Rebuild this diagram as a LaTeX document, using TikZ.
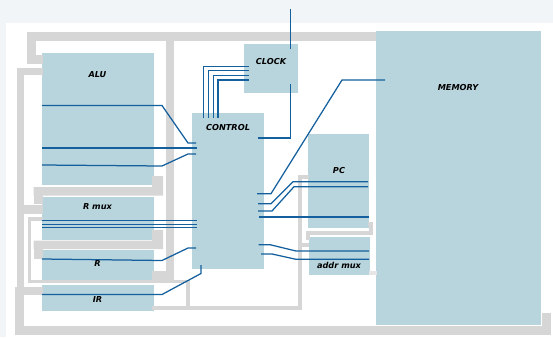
\documentclass[tikz,border=0pt]{standalone}
\usepackage{fontspec}
\setmainfont{DejaVu Sans}
\definecolor{pagebg}{HTML}{F1F5F8}
\definecolor{blockc}{HTML}{B8D4DC}
\definecolor{busc}{HTML}{D6D6D6}
\definecolor{busl}{HTML}{E6E6E6}
\definecolor{wirec}{HTML}{14609E}
\tikzset{
  blockbox/.style={fill=blockc,draw=none,inner sep=0pt,outer sep=0pt,anchor=north west},
  tag/.style={font=\bfseries\itshape\fontsize{8.2}{9}\selectfont,text=black,inner sep=0pt},
  bus/.style={draw=busc,line cap=butt,line join=miter},
  wire/.style={draw=wirec,line width=1.25pt,line join=miter},
}
\begin{document}
\begin{tikzpicture}[x=1pt,y=-1pt]
\useasboundingbox (0,0) rectangle (553,337);
\fill[pagebg] (0,0) rectangle (553,337);
\fill[white] (6,23) rectangle (553,337);
% blocks
\node[blockbox,minimum width=112pt,minimum height=132pt] (alu) at (42,53) {};
\node[blockbox,minimum width=112pt,minimum height=43pt] (rmux) at (42,197) {};
\node[blockbox,minimum width=112pt,minimum height=29.5pt] (r) at (42,250) {};
\node[blockbox,minimum width=112pt,minimum height=26pt] (ir) at (42,285) {};
\node[blockbox,minimum width=72pt,minimum height=156pt] (control) at (192,113) {};
\node[blockbox,minimum width=54pt,minimum height=49pt] (clock) at (244,44) {};
\node[blockbox,minimum width=61pt,minimum height=94pt] (pc) at (308,134) {};
\node[blockbox,minimum width=61pt,minimum height=38pt] (addr) at (309,237) {};
\node[blockbox,minimum width=165pt,minimum height=294pt] (memory) at (376,31) {};
% grey buses
\draw[bus,line width=8.7pt] (43,59.2) -- (31.7,59.2) -- (31.7,36.5) -- (376,36.5);
\draw[bus,line width=8.3pt] (170,36.5) -- (170,275.5) -- (152,275.5);
\draw[bus,line width=7.3pt] (43,71.3) -- (20.5,71.3) -- (20.5,291);
\draw[bus,line width=9pt] (24,209) -- (43,209);
\draw[bus,line width=8.5pt] (43,291) -- (19.6,291) -- (19.6,330.6) -- (546.6,330.6) -- (546.6,313);
\fill[busc] (152,176) -- (163,176) -- (163,195.7) -- (33.7,195.7) -- (33.7,187) -- (152,187) -- cycle;
\fill[busc] (33.7,187) rectangle (43,204);
\fill[busc] (152,230) -- (163,230) -- (163,249) -- (33.7,249) -- (33.7,240.7) -- (152,240.7) -- cycle;
\fill[busc] (33.7,240.7) rectangle (43,259);
\draw[bus,line width=3.8pt] (43,219) -- (29.5,219) -- (29.5,281.5) -- (188.2,281.5) -- (188.2,308);
\draw[bus,line width=3.6pt] (152,308) -- (300.2,308);
\draw[bus,line width=3.8pt] (309,177) -- (300.2,177) -- (300.2,309.8);
\draw[bus,line width=3.8pt] (300.2,245) -- (309,245);
\draw[bus,line width=3.8pt] (368,224) -- (371,224) -- (371,232.7) -- (307.8,232.7) -- (307.8,240);
\fill[busl] (369,270.7) rectangle (377,274.7);
% wire ends
\coordinate (aluA) at (42,105.5);
\coordinate (ctlA) at (196,143);
\coordinate (aluB) at (42,148);
\coordinate (ctlB) at (197,148);
\coordinate (aluC) at (42,165);
\coordinate (ctlC) at (196,154);
\coordinate (rmA) at (42,220.3);
\coordinate (ctlD) at (197,220.3);
\coordinate (rmB) at (42,224.3);
\coordinate (ctlE) at (197,224.3);
\coordinate (rmC) at (42,227.8);
\coordinate (ctlF) at (197,227.8);
\coordinate (rA) at (42,259);
\coordinate (ctlG) at (196,248);
\coordinate (irA) at (42,294.5);
\coordinate (ctlH) at (201,265);
\coordinate (ckIn) at (290.5,9);
\coordinate (ckA) at (290.5,49);
\coordinate (ckB) at (290.5,84);
\coordinate (ctlI) at (257.5,138);
\coordinate (memA) at (385,80);
\coordinate (ctlJ) at (257,193.7);
\coordinate (ctlK) at (258,203.7);
\coordinate (pcA) at (368,181.7);
\coordinate (ctlL) at (258,211);
\coordinate (pcB) at (368,186.7);
\coordinate (ctlM) at (258.5,217);
\coordinate (pcC) at (369,217);
\coordinate (ctlN) at (258.5,244.7);
\coordinate (adA) at (369,251);
\coordinate (ctlO) at (261,254);
\coordinate (adB) at (369,259.3);
% wires
\draw[wire] (aluA) -- (162,105.5) -- (188,143) -- (ctlA);
\draw[wire] (aluB) -- (ctlB);
\draw[wire] (aluC) -- (162,166) -- (188,154) -- (ctlC);
\draw[wire] (rmA) -- (ctlD);
\draw[wire] (rmB) -- (ctlE);
\draw[wire] (rmC) -- (ctlF);
\draw[wire] (rA) -- (162,260.5) -- (188,248) -- (ctlG);
\draw[wire] (irA) -- (162,294.5) -- (201,273.5) -- (ctlH);
\draw[wire] (203.4,118) -- (203.4,66.7) -- (249,66.7);
\draw[wire] (208.4,118) -- (208.4,70.4) -- (249,70.4);
\draw[wire] (213.4,118) -- (213.4,75.3) -- (249,75.3);
\draw[wire] (218,118) -- (218,80) -- (249,80);
\draw[wire] (ckIn) -- (ckA);
\draw[wire] (ckB) -- (290.5,138) -- (ctlI);
\draw[wire] (memA) -- (342,80) -- (271,193.7) -- (ctlJ);
\draw[wire] (ctlK) -- (271,203.7) -- (293,181.7) -- (pcA);
\draw[wire] (ctlL) -- (272,211) -- (294,186.7) -- (pcB);
\draw[wire] (ctlM) -- (pcC);
\draw[wire] (ctlN) -- (270,244.7) -- (296,251) -- (adA);
\draw[wire] (ctlO) -- (272,254) -- (296,259.3) -- (adB);
% labels
\node[tag] (tAlu) at (97.5,75) {ALU};
\node[tag] (tCtl) at (228,128) {CONTROL};
\node[tag] (tClk) at (271,62) {CLOCK};
\node[tag] (tMem) at (458,88) {MEMORY};
\node[tag] (tPc) at (339,171) {PC};
\node[tag] (tRm) at (97.5,207) {R mux};
\node[tag] (tR) at (97.5,264) {R};
\node[tag] (tIr) at (97.5,300) {IR};
\node[tag] (tAd) at (339,265) {addr mux};
\end{tikzpicture}
\end{document}
